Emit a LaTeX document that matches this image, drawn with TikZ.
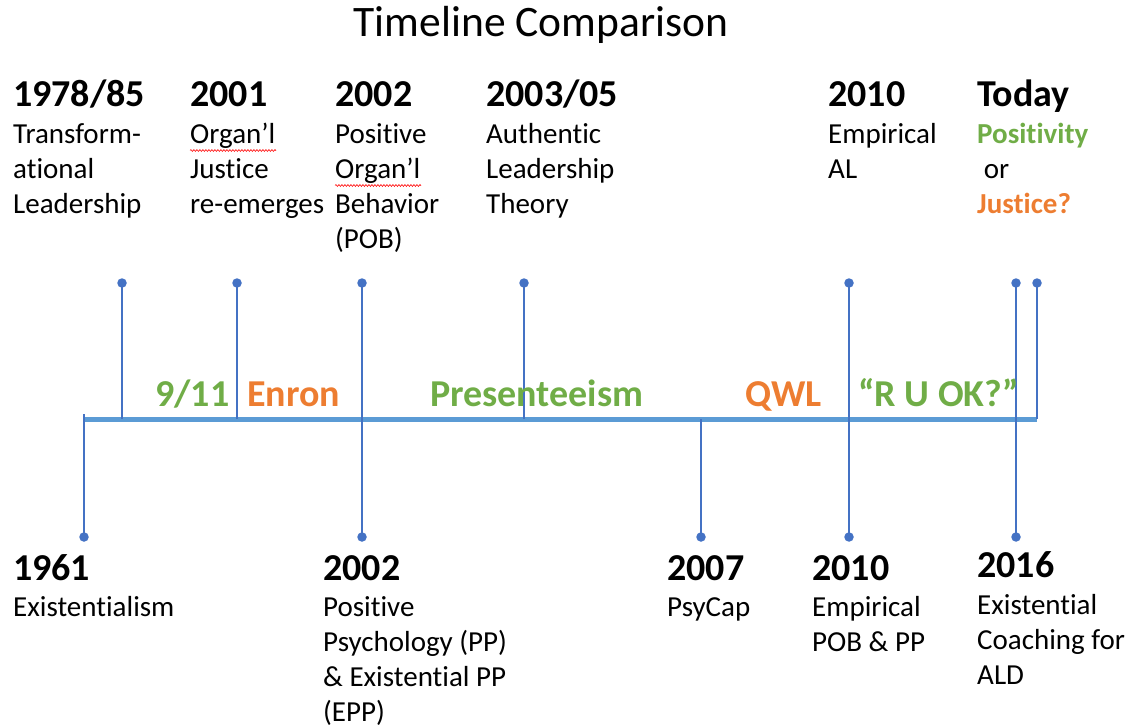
\documentclass[tikz,border=0pt]{standalone}
\usepackage{fontspec}
\setmainfont{Carlito}[Ligatures=NoCommon]
\usetikzlibrary{calc,decorations.pathmorphing}
\definecolor{tlblue}{HTML}{4472C4}
\definecolor{axisblue}{HTML}{5B9BD5}
\definecolor{tlgreen}{HTML}{70AD47}
\definecolor{tlorange}{HTML}{ED7D31}
\begin{document}
\begin{tikzpicture}[x=1pt,y=-1pt,
  dot/.style={circle,fill=tlblue,inner sep=0pt,minimum size=9.5pt},
  stem/.style={draw=tlblue,line width=1.4pt},
  axis/.style={draw=axisblue,line width=5pt},
  title/.style={anchor=base,inner sep=0pt,font=\fontsize{43.5}{48}\selectfont},
  year/.style={anchor=base west,inner sep=0pt,font=\fontsize{38}{44}\selectfont\bfseries},
  desc/.style={anchor=north west,inner sep=0pt,align=left,font=\fontsize{29}{35}\selectfont},
  event/.style={anchor=base west,inner sep=0pt,font=\fontsize{38}{44}\selectfont\bfseries},
  spell/.style={draw=red,line width=0.6pt,decorate,decoration={snake,amplitude=0.9pt,segment length=3pt}}]
\useasboundingbox (0,0) rectangle (1139,727);

% title
\node[title] (ttl) at (541,37) {Timeline Comparison};

% axis
\coordinate (axL) at (84,419);
\coordinate (axR) at (1037,419);
\draw[axis] (axL) -- (axR);

% points where stems meet the axis
\coordinate (a1) at (122,419);
\coordinate (a2) at (237,419);
\coordinate (a4) at (524,419);
\coordinate (a7) at (1037,419);
\coordinate (b1) at (84,414);
\coordinate (b3) at (701,419);

% upper markers
\node[dot] (u1) at (122,283) {};
\node[dot] (u2) at (237,283) {};
\node[dot] (u3) at (362,283) {};
\node[dot] (u4) at (524,283) {};
\node[dot] (u5) at (849,283) {};
\node[dot] (u6) at (1016,283) {};
\node[dot] (u7) at (1037,283) {};

% lower markers
\node[dot] (l1) at (84,537) {};
\node[dot] (l2) at (362,537) {};
\node[dot] (l3) at (701,537) {};
\node[dot] (l4) at (849,537) {};
\node[dot] (l5) at (1016,537) {};

% stems
\draw[stem] (u1.center) -- (a1);
\draw[stem] (u2.center) -- (a2);
\draw[stem] (u3.center) -- (l2.center);
\draw[stem] (u4.center) -- (a4);
\draw[stem] (u5.center) -- (l4.center);
\draw[stem] (u6.center) -- (l5.center);
\draw[stem] (u7.center) -- (a7);
\draw[stem] (b1) -- (l1.center);
\draw[stem] (b3) -- (l3.center);

% upper labels
\node[year] (y1) at (13,107) {1978/85};
\node[desc] (d1) at (13,118.5) {\strut Transform-\\ational\\Leadership};
\node[year] (y2) at (190,107) {2001};
\node[desc] (d2) at (190,118.5) {\strut Organ’l\\Justice\\re-emerges};
\node[year] (y3) at (335,107) {2002};
\node[desc] (d3) at (335,118.5) {\strut Positive\\Organ’l\\Behavior\\(POB)};
\node[year] (y4) at (486,107) {2003/05};
\node[desc] (d4) at (486,118.5) {\strut Authentic\\Leadership\\Theory};
\node[year] (y5) at (828,107) {2010};
\node[desc] (d5) at (828,118.5) {\strut Empirical\\AL};
\node[year] (y6) at (977,107) {Today};
\node[desc] (d6) at (977,118.5) {\strut\textcolor{tlgreen}{\bfseries Positivity}\\\ or\\\textcolor{tlorange}{\bfseries Justice?}};

% spelling marks under Organ'l
\draw[spell] ($(d2.north west)+(0,32)$) -- ($(d2.north west)+(86,32)$);
\draw[spell] ($(d3.north west)+(0,67)$) -- ($(d3.north west)+(86,67)$);

% lower labels
\node[year] (y7) at (13,580) {1961};
\node[desc] (d7) at (13,591.5) {\strut Existentialism};
\node[year] (y8) at (323,580) {2002};
\node[desc] (d8) at (323,591.5) {\strut Positive\\Psychology (PP)\\\& Existential PP\\(EPP)};
\node[year] (y9) at (667,580) {2007};
\node[desc] (d9) at (667,591.5) {\strut PsyCap};
\node[year] (y10) at (812,580) {2010};
\node[desc] (d10) at (812,591.5) {\strut Empirical\\POB \& PP};
\node[year] (y11) at (977,577) {2016};
\node[desc] (d11) at (977,589.5) {\strut Existential\\Coaching for\\ALD};

% events along the axis
\node[event,text=tlgreen] (e1) at (155,406) {9/11};
\node[event,text=tlorange] (e2) at (247,406) {Enron};
\node[event,text=tlgreen] (e3) at (430,406) {Presenteeism};
\node[event,text=tlorange] (e4) at (745,406) {QWL};
\node[event,text=tlgreen] (e5) at (858,406) {“R U OK?”};
\end{tikzpicture}
\end{document}
